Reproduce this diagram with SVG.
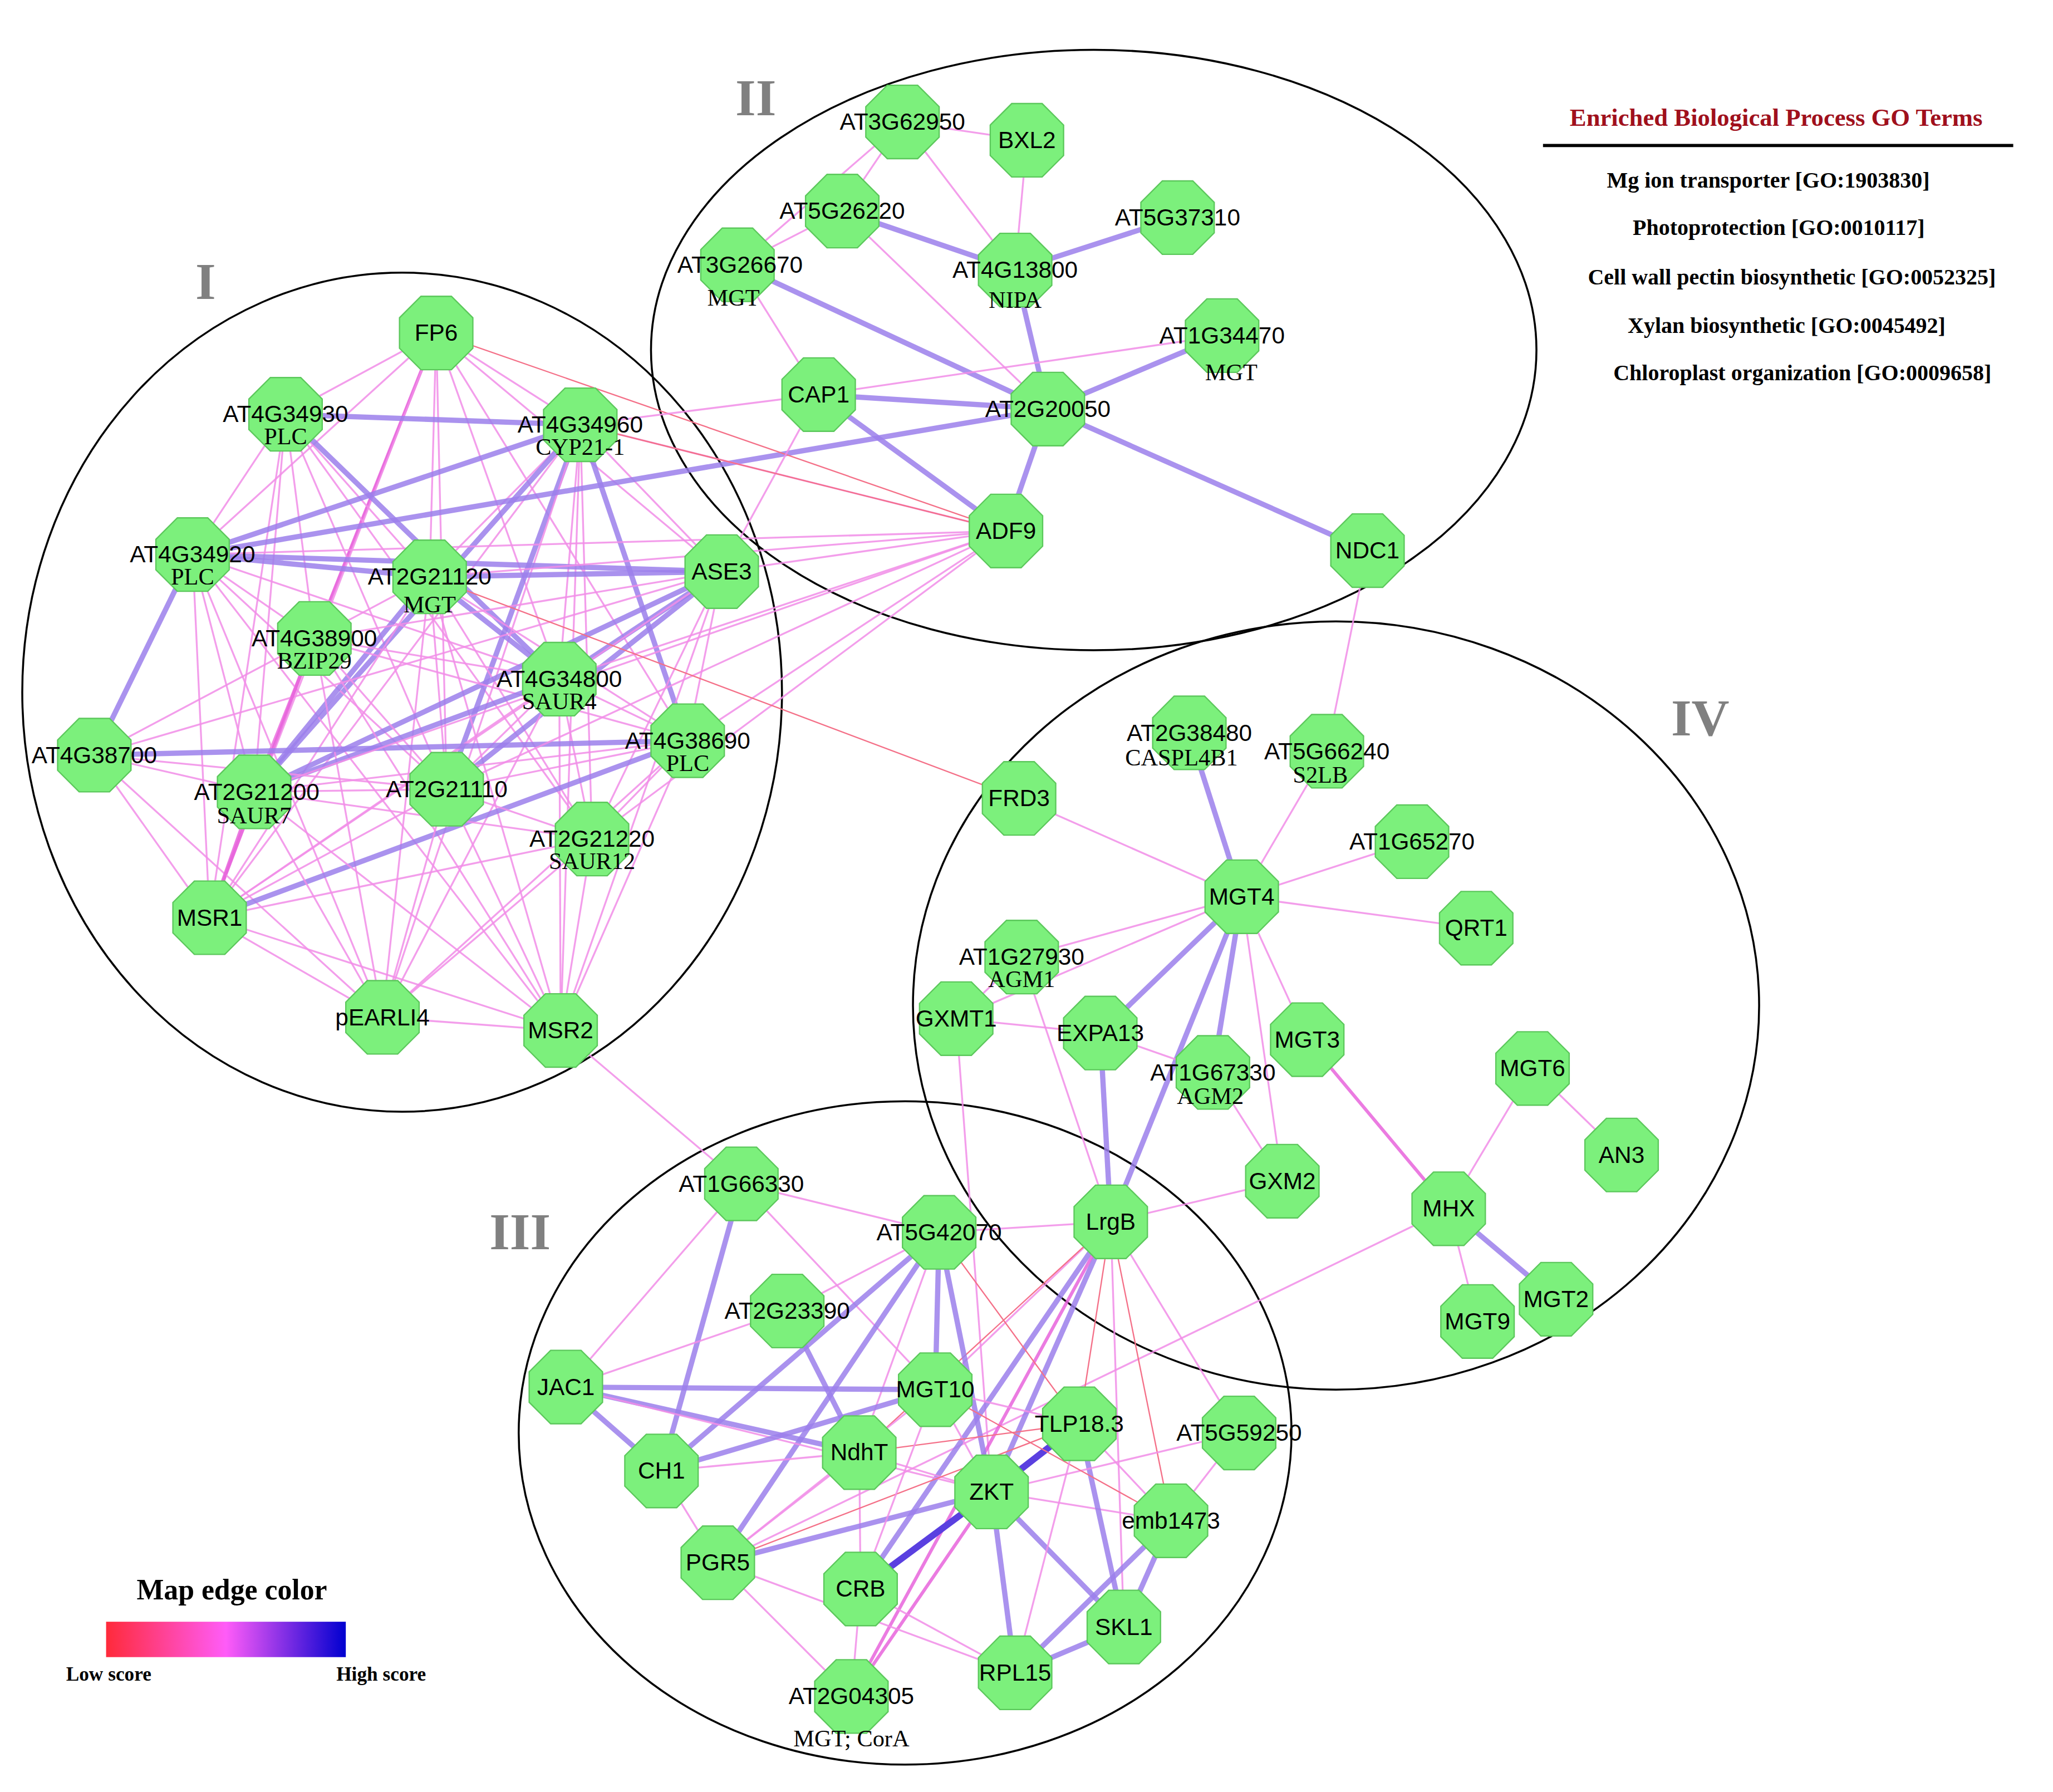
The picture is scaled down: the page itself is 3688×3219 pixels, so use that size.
<svg xmlns="http://www.w3.org/2000/svg" xmlns:xlink="http://www.w3.org/1999/xlink" width="3688" height="3219" viewBox="0 0 3688 3219">
<defs>
<style>
.p{stroke:#f28ee8;stroke-width:1.4;opacity:.85}
.m{stroke:#e864dc;stroke-width:2.5;opacity:.85}
.v{stroke:#9c80ec;stroke-width:4;opacity:.85}
.b{stroke:#5a40e0;stroke-width:5}
.r{stroke:#f47088;stroke-width:1}
.oct{fill:#7cf07c;stroke:#5cc85c;stroke-width:1}
.lb{font-family:"Liberation Sans",Arial,sans-serif;font-size:18px;fill:#000;text-anchor:middle}
.l2{font-family:"Liberation Serif","Times New Roman",serif;font-size:18px;fill:#000;text-anchor:middle}
.rn{font-family:"Liberation Serif","Times New Roman",serif;font-size:40px;font-weight:bold;fill:#808080;text-anchor:middle}
.go{font-family:"Liberation Serif","Times New Roman",serif;font-size:17px;font-weight:bold;fill:#000;text-anchor:middle}
.cl{fill:none;stroke:#000;stroke-width:1.5}
</style>
<polygon id="o" class="oct" points="-11.6,-28 11.6,-28 28,-11.6 28,11.6 11.6,28 -11.6,28 -28,11.6 -28,-11.6"/>
<linearGradient id="g" x1="0" x2="1" y1="0" y2="0">
<stop offset="0" stop-color="#ff2a3a"/><stop offset="0.5" stop-color="#ff5cf8"/><stop offset="1" stop-color="#0000d0"/>
</linearGradient>
</defs>
<rect width="3688" height="3219" fill="#fff"/>
<g transform="scale(2.353,2.355)">
<g id="clusters">
<ellipse class="cl" cx="307" cy="528" rx="290" ry="320"/>
<ellipse class="cl" cx="835" cy="267" rx="338" ry="229"/>
<ellipse class="cl" cx="1020" cy="767" rx="323" ry="293"/>
<ellipse class="cl" cx="691" cy="1093" rx="295" ry="253"/>
<text class="rn" x="157" y="228">I</text>
<text class="rn" x="577" y="88">II</text>
<text class="rn" x="397" y="953">III</text>
<text class="rn" x="1298" y="561">IV</text>
</g>
<g id="connectors">
<line class="p" x1="333" y1="254" x2="218" y2="316"/><line class="p" x1="333" y1="254" x2="443" y2="324"/><line class="p" x1="333" y1="254" x2="147" y2="423"/><line class="p" x1="333" y1="254" x2="328" y2="440"/><line class="p" x1="333" y1="254" x2="240" y2="487"/><line class="p" x1="333" y1="254" x2="427" y2="518"/><line class="m" x1="333" y1="254" x2="194" y2="604"/><line class="p" x1="333" y1="254" x2="341" y2="602"/><line class="p" x1="333" y1="254" x2="551" y2="436"/><line class="p" x1="333" y1="254" x2="160" y2="700"/><line class="p" x1="333" y1="254" x2="525" y2="565"/>
<line class="v" x1="218" y1="316" x2="443" y2="324"/><line class="p" x1="218" y1="316" x2="147" y2="423"/><line class="p" x1="218" y1="316" x2="328" y2="440"/><line class="p" x1="218" y1="316" x2="240" y2="487"/><line class="v" x1="218" y1="316" x2="427" y2="518"/><line class="p" x1="218" y1="316" x2="194" y2="604"/><line class="p" x1="218" y1="316" x2="341" y2="602"/><line class="p" x1="218" y1="316" x2="160" y2="700"/><line class="p" x1="218" y1="316" x2="452" y2="640"/>
<line class="v" x1="443" y1="324" x2="147" y2="423"/><line class="p" x1="443" y1="324" x2="328" y2="440"/><line class="p" x1="443" y1="324" x2="551" y2="436"/><line class="p" x1="443" y1="324" x2="427" y2="518"/><line class="v" x1="443" y1="324" x2="525" y2="565"/><line class="v" x1="443" y1="324" x2="194" y2="604"/><line class="v" x1="443" y1="324" x2="341" y2="602"/><line class="p" x1="443" y1="324" x2="160" y2="700"/><line class="p" x1="443" y1="324" x2="452" y2="640"/><line class="p" x1="443" y1="324" x2="292" y2="776"/><line class="p" x1="443" y1="324" x2="428" y2="786"/>
<line class="v" x1="147" y1="423" x2="328" y2="440"/><line class="v" x1="147" y1="423" x2="551" y2="436"/><line class="p" x1="147" y1="423" x2="240" y2="487"/><line class="v" x1="147" y1="423" x2="72" y2="576"/><line class="p" x1="147" y1="423" x2="194" y2="604"/><line class="p" x1="147" y1="423" x2="427" y2="518"/><line class="p" x1="147" y1="423" x2="160" y2="700"/><line class="p" x1="147" y1="423" x2="292" y2="776"/><line class="p" x1="147" y1="423" x2="428" y2="786"/><line class="p" x1="147" y1="423" x2="341" y2="602"/>
<line class="v" x1="328" y1="440" x2="551" y2="436"/><line class="p" x1="328" y1="440" x2="240" y2="487"/><line class="v" x1="328" y1="440" x2="427" y2="518"/><line class="v" x1="328" y1="440" x2="194" y2="604"/><line class="p" x1="328" y1="440" x2="341" y2="602"/><line class="p" x1="328" y1="440" x2="160" y2="700"/><line class="p" x1="328" y1="440" x2="428" y2="786"/><line class="p" x1="328" y1="440" x2="525" y2="565"/><line class="p" x1="328" y1="440" x2="292" y2="776"/><line class="p" x1="328" y1="440" x2="452" y2="640"/>
<line class="v" x1="551" y1="436" x2="427" y2="518"/><line class="p" x1="551" y1="436" x2="525" y2="565"/><line class="v" x1="551" y1="436" x2="194" y2="604"/><line class="v" x1="551" y1="436" x2="341" y2="602"/><line class="p" x1="551" y1="436" x2="160" y2="700"/><line class="p" x1="551" y1="436" x2="428" y2="786"/><line class="p" x1="551" y1="436" x2="452" y2="640"/><line class="p" x1="551" y1="436" x2="72" y2="576"/><line class="p" x1="551" y1="436" x2="240" y2="487"/>
<line class="p" x1="240" y1="487" x2="427" y2="518"/><line class="p" x1="240" y1="487" x2="194" y2="604"/><line class="p" x1="240" y1="487" x2="341" y2="602"/><line class="m" x1="240" y1="487" x2="160" y2="700"/><line class="p" x1="240" y1="487" x2="292" y2="776"/><line class="p" x1="240" y1="487" x2="428" y2="786"/><line class="p" x1="240" y1="487" x2="72" y2="576"/><line class="p" x1="240" y1="487" x2="525" y2="565"/>
<line class="p" x1="427" y1="518" x2="525" y2="565"/><line class="v" x1="427" y1="518" x2="194" y2="604"/><line class="p" x1="427" y1="518" x2="341" y2="602"/><line class="p" x1="427" y1="518" x2="452" y2="640"/><line class="p" x1="427" y1="518" x2="160" y2="700"/><line class="p" x1="427" y1="518" x2="428" y2="786"/><line class="p" x1="427" y1="518" x2="292" y2="776"/>
<line class="v" x1="72" y1="576" x2="525" y2="565"/><line class="p" x1="72" y1="576" x2="194" y2="604"/><line class="p" x1="72" y1="576" x2="160" y2="700"/><line class="p" x1="72" y1="576" x2="292" y2="776"/><line class="p" x1="72" y1="576" x2="341" y2="602"/>
<line class="p" x1="525" y1="565" x2="194" y2="604"/><line class="p" x1="525" y1="565" x2="341" y2="602"/><line class="p" x1="525" y1="565" x2="452" y2="640"/><line class="v" x1="525" y1="565" x2="160" y2="700"/><line class="p" x1="525" y1="565" x2="428" y2="786"/><line class="p" x1="525" y1="565" x2="292" y2="776"/>
<line class="p" x1="194" y1="604" x2="341" y2="602"/><line class="m" x1="194" y1="604" x2="160" y2="700"/><line class="p" x1="194" y1="604" x2="292" y2="776"/><line class="p" x1="194" y1="604" x2="428" y2="786"/><line class="p" x1="194" y1="604" x2="452" y2="640"/>
<line class="p" x1="341" y1="602" x2="160" y2="700"/><line class="p" x1="341" y1="602" x2="292" y2="776"/><line class="p" x1="341" y1="602" x2="428" y2="786"/><line class="p" x1="341" y1="602" x2="452" y2="640"/>
<line class="p" x1="452" y1="640" x2="160" y2="700"/><line class="p" x1="452" y1="640" x2="428" y2="786"/><line class="p" x1="452" y1="640" x2="292" y2="776"/>
<line class="p" x1="160" y1="700" x2="292" y2="776"/><line class="p" x1="160" y1="700" x2="428" y2="786"/><line class="p" x1="292" y1="776" x2="428" y2="786"/>
<line class="v" x1="147" y1="423" x2="800" y2="312"/>
<line class="p" x1="768" y1="405" x2="551" y2="436"/><line class="p" x1="768" y1="405" x2="525" y2="565"/><line class="p" x1="768" y1="405" x2="427" y2="518"/><line class="p" x1="768" y1="405" x2="328" y2="440"/><line class="p" x1="768" y1="405" x2="443" y2="324"/><line class="p" x1="768" y1="405" x2="194" y2="604"/><line class="p" x1="768" y1="405" x2="341" y2="602"/><line class="r" x1="768" y1="405" x2="333" y2="254"/><line class="p" x1="768" y1="405" x2="452" y2="640"/><line class="p" x1="768" y1="405" x2="147" y2="423"/>
<line class="p" x1="625" y1="301" x2="443" y2="324"/><line class="p" x1="625" y1="301" x2="551" y2="436"/><line class="r" x1="328" y1="440" x2="778" y2="609"/><line class="r" x1="443" y1="324" x2="768" y2="405"/>
<line class="p" x1="428" y1="786" x2="566" y2="903"/><line class="p" x1="1044" y1="420" x2="1013" y2="573"/>
<line class="p" x1="689" y1="93" x2="784" y2="107"/><line class="p" x1="689" y1="93" x2="643" y2="161"/><line class="p" x1="689" y1="93" x2="775" y2="206"/><line class="p" x1="784" y1="107" x2="775" y2="206"/><line class="v" x1="643" y1="161" x2="775" y2="206"/><line class="v" x1="899" y1="166" x2="775" y2="206"/><line class="p" x1="563" y1="202" x2="643" y2="161"/><line class="v" x1="563" y1="202" x2="800" y2="312"/><line class="p" x1="563" y1="202" x2="625" y2="301"/><line class="v" x1="775" y1="206" x2="800" y2="312"/><line class="p" x1="643" y1="161" x2="800" y2="312"/><line class="v" x1="625" y1="301" x2="800" y2="312"/><line class="p" x1="625" y1="301" x2="933" y2="256"/><line class="v" x1="933" y1="256" x2="800" y2="312"/><line class="v" x1="625" y1="301" x2="768" y2="405"/><line class="v" x1="800" y1="312" x2="768" y2="405"/><line class="v" x1="800" y1="312" x2="1044" y2="420"/><line class="p" x1="689" y1="93" x2="563" y2="202"/>
<line class="p" x1="778" y1="609" x2="948" y2="684"/><line class="v" x1="908" y1="559" x2="948" y2="684"/><line class="p" x1="1013" y1="573" x2="948" y2="684"/><line class="p" x1="1078" y1="642" x2="948" y2="684"/><line class="p" x1="948" y1="684" x2="1127" y2="708"/><line class="p" x1="948" y1="684" x2="780" y2="730"/><line class="p" x1="948" y1="684" x2="730" y2="777"/><line class="v" x1="948" y1="684" x2="840" y2="788"/><line class="v" x1="948" y1="684" x2="926" y2="818"/><line class="p" x1="948" y1="684" x2="998" y2="793"/><line class="p" x1="948" y1="684" x2="979" y2="901"/><line class="v" x1="948" y1="684" x2="848" y2="932"/>
<line class="p" x1="780" y1="730" x2="730" y2="777"/><line class="p" x1="730" y1="777" x2="840" y2="788"/><line class="p" x1="780" y1="730" x2="848" y2="932"/><line class="p" x1="840" y1="788" x2="926" y2="818"/><line class="v" x1="840" y1="788" x2="848" y2="932"/><line class="p" x1="926" y1="818" x2="979" y2="901"/><line class="m" x1="998" y1="793" x2="1106" y2="922"/><line class="p" x1="1106" y1="922" x2="1170" y2="815"/><line class="p" x1="1170" y1="815" x2="1238" y2="881"/><line class="p" x1="1106" y1="922" x2="1128" y2="1008"/><line class="v" x1="1106" y1="922" x2="1188" y2="991"/><line class="p" x1="979" y1="901" x2="848" y2="932"/><line class="p" x1="1106" y1="922" x2="548" y2="1192"/><line class="p" x1="730" y1="777" x2="757" y2="1138"/>
<line class="p" x1="848" y1="932" x2="946" y2="1093"/><line class="p" x1="848" y1="932" x2="858" y2="1241"/><line class="v" x1="848" y1="932" x2="757" y2="1138"/><line class="v" x1="848" y1="932" x2="657" y2="1212"/><line class="r" x1="848" y1="932" x2="824" y2="1086"/><line class="p" x1="848" y1="932" x2="714" y2="1060"/><line class="p" x1="848" y1="932" x2="717" y2="940"/><line class="r" x1="848" y1="932" x2="656" y2="1108"/><line class="r" x1="848" y1="932" x2="894" y2="1160"/><line class="m" x1="848" y1="932" x2="650" y2="1294"/>
<line class="p" x1="566" y1="903" x2="432" y2="1058"/><line class="v" x1="566" y1="903" x2="505" y2="1122"/><line class="p" x1="566" y1="903" x2="717" y2="940"/><line class="p" x1="566" y1="903" x2="714" y2="1060"/><line class="p" x1="717" y1="940" x2="601" y2="1000"/><line class="v" x1="717" y1="940" x2="505" y2="1122"/><line class="v" x1="717" y1="940" x2="548" y2="1192"/><line class="v" x1="717" y1="940" x2="714" y2="1060"/><line class="p" x1="717" y1="940" x2="656" y2="1108"/><line class="v" x1="717" y1="940" x2="757" y2="1138"/><line class="v" x1="601" y1="1000" x2="656" y2="1108"/><line class="p" x1="432" y1="1058" x2="601" y2="1000"/>
<line class="v" x1="432" y1="1058" x2="714" y2="1060"/><line class="v" x1="432" y1="1058" x2="505" y2="1122"/><line class="v" x1="432" y1="1058" x2="656" y2="1108"/><line class="p" x1="432" y1="1058" x2="757" y2="1138"/><line class="v" x1="505" y1="1122" x2="714" y2="1060"/><line class="p" x1="505" y1="1122" x2="548" y2="1192"/><line class="p" x1="505" y1="1122" x2="656" y2="1108"/><line class="p" x1="714" y1="1060" x2="824" y2="1086"/><line class="p" x1="714" y1="1060" x2="757" y2="1138"/><line class="p" x1="656" y1="1108" x2="757" y2="1138"/><line class="p" x1="656" y1="1108" x2="548" y2="1192"/><line class="p" x1="656" y1="1108" x2="657" y2="1212"/>
<line class="b" x1="824" y1="1086" x2="757" y2="1138"/><line class="b" x1="757" y1="1138" x2="657" y2="1212"/><line class="v" x1="757" y1="1138" x2="548" y2="1192"/><line class="p" x1="757" y1="1138" x2="894" y2="1160"/><line class="v" x1="757" y1="1138" x2="858" y2="1241"/><line class="v" x1="757" y1="1138" x2="775" y2="1276"/><line class="p" x1="824" y1="1086" x2="894" y2="1160"/><line class="v" x1="824" y1="1086" x2="858" y2="1241"/><line class="v" x1="894" y1="1160" x2="858" y2="1241"/><line class="v" x1="894" y1="1160" x2="775" y2="1276"/><line class="v" x1="858" y1="1241" x2="775" y2="1276"/><line class="p" x1="657" y1="1212" x2="650" y2="1294"/><line class="p" x1="548" y1="1192" x2="650" y2="1294"/><line class="m" x1="757" y1="1138" x2="650" y2="1294"/><line class="p" x1="946" y1="1093" x2="757" y2="1138"/><line class="p" x1="657" y1="1212" x2="775" y2="1276"/><line class="p" x1="548" y1="1192" x2="775" y2="1276"/>
<line class="r" x1="714" y1="1060" x2="894" y2="1160"/><line class="r" x1="656" y1="1108" x2="824" y2="1086"/><line class="r" x1="548" y1="1192" x2="824" y2="1086"/><line class="p" x1="714" y1="1060" x2="657" y2="1212"/><line class="p" x1="824" y1="1086" x2="775" y2="1276"/><line class="p" x1="714" y1="1060" x2="548" y2="1192"/><line class="r" x1="717" y1="940" x2="824" y2="1086"/><line class="p" x1="946" y1="1093" x2="894" y2="1160"/>
</g>
<g id="n_FP6"><use href="#o" x="333" y="254"/><text class="lb" x="333" y="260">FP6</text></g>
<g id="n_AT4G34930"><use href="#o" x="218" y="316"/><text class="lb" x="218" y="322">AT4G34930</text><text class="l2" x="218" y="339">PLC</text></g>
<g id="n_AT4G34960"><use href="#o" x="443" y="324"/><text class="lb" x="443" y="330">AT4G34960</text><text class="l2" x="443" y="347">CYP21-1</text></g>
<g id="n_AT4G34920"><use href="#o" x="147" y="423"/><text class="lb" x="147" y="429">AT4G34920</text><text class="l2" x="147" y="446">PLC</text></g>
<g id="n_AT2G21120"><use href="#o" x="328" y="440"/><text class="lb" x="328" y="446">AT2G21120</text><text class="l2" x="328" y="467">MGT</text></g>
<g id="n_ASE3"><use href="#o" x="551" y="436"/><text class="lb" x="551" y="442">ASE3</text></g>
<g id="n_AT4G38900"><use href="#o" x="240" y="487"/><text class="lb" x="240" y="493">AT4G38900</text><text class="l2" x="240" y="510">BZIP29</text></g>
<g id="n_AT4G34800"><use href="#o" x="427" y="518"/><text class="lb" x="427" y="524">AT4G34800</text><text class="l2" x="427" y="541">SAUR4</text></g>
<g id="n_AT4G38700"><use href="#o" x="72" y="576"/><text class="lb" x="72" y="582">AT4G38700</text></g>
<g id="n_AT4G38690"><use href="#o" x="525" y="565"/><text class="lb" x="525" y="571">AT4G38690</text><text class="l2" x="525" y="588">PLC</text></g>
<g id="n_AT2G21200"><use href="#o" x="194" y="604"/><text class="lb" x="196" y="610">AT2G21200</text><text class="l2" x="194" y="628">SAUR7</text></g>
<g id="n_AT2G21110"><use href="#o" x="341" y="602"/><text class="lb" x="341" y="608">AT2G21110</text></g>
<g id="n_AT2G21220"><use href="#o" x="452" y="640"/><text class="lb" x="452" y="646">AT2G21220</text><text class="l2" x="452" y="663">SAUR12</text></g>
<g id="n_MSR1"><use href="#o" x="160" y="700"/><text class="lb" x="160" y="706">MSR1</text></g>
<g id="n_pEARLI4"><use href="#o" x="292" y="776"/><text class="lb" x="292" y="782">pEARLI4</text></g>
<g id="n_MSR2"><use href="#o" x="428" y="786"/><text class="lb" x="428" y="792">MSR2</text></g>
<g id="n_AT3G62950"><use href="#o" x="689" y="93"/><text class="lb" x="689" y="99">AT3G62950</text></g>
<g id="n_BXL2"><use href="#o" x="784" y="107"/><text class="lb" x="784" y="113">BXL2</text></g>
<g id="n_AT5G26220"><use href="#o" x="643" y="161"/><text class="lb" x="643" y="167">AT5G26220</text></g>
<g id="n_AT5G37310"><use href="#o" x="899" y="166"/><text class="lb" x="899" y="172">AT5G37310</text></g>
<g id="n_AT3G26670"><use href="#o" x="563" y="202"/><text class="lb" x="565" y="208">AT3G26670</text><text class="l2" x="560" y="233">MGT</text></g>
<g id="n_AT4G13800"><use href="#o" x="775" y="206"/><text class="lb" x="775" y="212">AT4G13800</text><text class="l2" x="775" y="235">NIPA</text></g>
<g id="n_AT1G34470"><use href="#o" x="933" y="256"/><text class="lb" x="933" y="262">AT1G34470</text><text class="l2" x="940" y="290">MGT</text></g>
<g id="n_CAP1"><use href="#o" x="625" y="301"/><text class="lb" x="625" y="307">CAP1</text></g>
<g id="n_AT2G20050"><use href="#o" x="800" y="312"/><text class="lb" x="800" y="318">AT2G20050</text></g>
<g id="n_ADF9"><use href="#o" x="768" y="405"/><text class="lb" x="768" y="411">ADF9</text></g>
<g id="n_NDC1"><use href="#o" x="1044" y="420"/><text class="lb" x="1044" y="426">NDC1</text></g>
<g id="n_AT2G38480"><use href="#o" x="908" y="559"/><text class="lb" x="908" y="565">AT2G38480</text><text class="l2" x="902" y="584">CASPL4B1</text></g>
<g id="n_AT5G66240"><use href="#o" x="1013" y="573"/><text class="lb" x="1013" y="579">AT5G66240</text><text class="l2" x="1008" y="597">S2LB</text></g>
<g id="n_FRD3"><use href="#o" x="778" y="609"/><text class="lb" x="778" y="615">FRD3</text></g>
<g id="n_AT1G65270"><use href="#o" x="1078" y="642"/><text class="lb" x="1078" y="648">AT1G65270</text></g>
<g id="n_MGT4"><use href="#o" x="948" y="684"/><text class="lb" x="948" y="690">MGT4</text></g>
<g id="n_QRT1"><use href="#o" x="1127" y="708"/><text class="lb" x="1127" y="714">QRT1</text></g>
<g id="n_AT1G27930"><use href="#o" x="780" y="730"/><text class="lb" x="780" y="736">AT1G27930</text><text class="l2" x="780" y="753">AGM1</text></g>
<g id="n_GXMT1"><use href="#o" x="730" y="777"/><text class="lb" x="730" y="783">GXMT1</text></g>
<g id="n_EXPA13"><use href="#o" x="840" y="788"/><text class="lb" x="840" y="794">EXPA13</text></g>
<g id="n_MGT3"><use href="#o" x="998" y="793"/><text class="lb" x="998" y="799">MGT3</text></g>
<g id="n_AT1G67330"><use href="#o" x="926" y="818"/><text class="lb" x="926" y="824">AT1G67330</text><text class="l2" x="924" y="842">AGM2</text></g>
<g id="n_MGT6"><use href="#o" x="1170" y="815"/><text class="lb" x="1170" y="821">MGT6</text></g>
<g id="n_AN3"><use href="#o" x="1238" y="881"/><text class="lb" x="1238" y="887">AN3</text></g>
<g id="n_GXM2"><use href="#o" x="979" y="901"/><text class="lb" x="979" y="907">GXM2</text></g>
<g id="n_LrgB"><use href="#o" x="848" y="932"/><text class="lb" x="848" y="938">LrgB</text></g>
<g id="n_MHX"><use href="#o" x="1106" y="922"/><text class="lb" x="1106" y="928">MHX</text></g>
<g id="n_MGT9"><use href="#o" x="1128" y="1008"/><text class="lb" x="1128" y="1014">MGT9</text></g>
<g id="n_MGT2"><use href="#o" x="1188" y="991"/><text class="lb" x="1188" y="997">MGT2</text></g>
<g id="n_AT1G66330"><use href="#o" x="566" y="903"/><text class="lb" x="566" y="909">AT1G66330</text></g>
<g id="n_AT5G42070"><use href="#o" x="717" y="940"/><text class="lb" x="717" y="946">AT5G42070</text></g>
<g id="n_AT2G23390"><use href="#o" x="601" y="1000"/><text class="lb" x="601" y="1006">AT2G23390</text></g>
<g id="n_JAC1"><use href="#o" x="432" y="1058"/><text class="lb" x="432" y="1064">JAC1</text></g>
<g id="n_MGT10"><use href="#o" x="714" y="1060"/><text class="lb" x="714" y="1066">MGT10</text></g>
<g id="n_CH1"><use href="#o" x="505" y="1122"/><text class="lb" x="505" y="1128">CH1</text></g>
<g id="n_NdhT"><use href="#o" x="656" y="1108"/><text class="lb" x="656" y="1114">NdhT</text></g>
<g id="n_TLP18.3"><use href="#o" x="824" y="1086"/><text class="lb" x="824" y="1092">TLP18.3</text></g>
<g id="n_AT5G59250"><use href="#o" x="946" y="1093"/><text class="lb" x="946" y="1099">AT5G59250</text></g>
<g id="n_ZKT"><use href="#o" x="757" y="1138"/><text class="lb" x="757" y="1144">ZKT</text></g>
<g id="n_emb1473"><use href="#o" x="894" y="1160"/><text class="lb" x="894" y="1166">emb1473</text></g>
<g id="n_PGR5"><use href="#o" x="548" y="1192"/><text class="lb" x="548" y="1198">PGR5</text></g>
<g id="n_CRB"><use href="#o" x="657" y="1212"/><text class="lb" x="657" y="1218">CRB</text></g>
<g id="n_SKL1"><use href="#o" x="858" y="1241"/><text class="lb" x="858" y="1247">SKL1</text></g>
<g id="n_RPL15"><use href="#o" x="775" y="1276"/><text class="lb" x="775" y="1282">RPL15</text></g>
<g id="n_AT2G04305"><use href="#o" x="650" y="1294"/><text class="lb" x="650" y="1300">AT2G04305</text><text class="l2" x="650" y="1332">MGT; CorA</text></g>
<g id="legend_go">
<text x="1356" y="96" style="font-family:'Liberation Serif','Times New Roman',serif;font-size:19px;font-weight:bold;fill:#a0101c;text-anchor:middle">Enriched Biological Process GO Terms</text>
<line x1="1178" y1="111" x2="1537" y2="111" stroke="#000" stroke-width="2.5"/>
<text class="go" x="1350" y="143">Mg ion transporter [GO:1903830]</text>
<text class="go" x="1358" y="179">Photoprotection [GO:0010117]</text>
<text class="go" x="1368" y="217">Cell wall pectin biosynthetic [GO:0052325]</text>
<text class="go" x="1364" y="254">Xylan biosynthetic [GO:0045492]</text>
<text class="go" x="1376" y="290">Chloroplast organization [GO:0009658]</text>
</g>
<g id="legend_color">
<text x="177" y="1220" style="font-family:'Liberation Serif','Times New Roman',serif;font-size:22px;font-weight:bold;fill:#000;text-anchor:middle">Map edge color</text>
<rect x="81" y="1237" width="183" height="27" fill="url(#g)"/>
<text x="83" y="1282" style="font-family:'Liberation Serif','Times New Roman',serif;font-size:15px;font-weight:bold;fill:#000;text-anchor:middle">Low score</text>
<text x="291" y="1282" style="font-family:'Liberation Serif','Times New Roman',serif;font-size:15px;font-weight:bold;fill:#000;text-anchor:middle">High score</text>
</g>
</g>
</svg>
